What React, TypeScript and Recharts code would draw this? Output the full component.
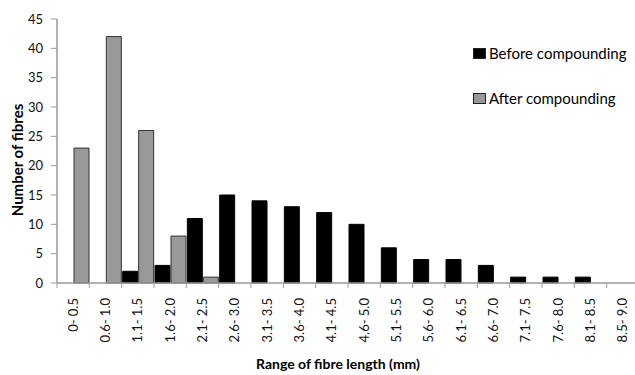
import React from 'react';
import { BarChart, Bar, XAxis, YAxis, Legend } from 'recharts';

const categories = ['0- 0.5', '0.6- 1.0', '1.1- 1.5', '1.6- 2.0', '2.1- 2.5', '2.6- 3.0', '3.1- 3.5', '3.6- 4.0', '4.1- 4.5', '4.6- 5.0', '5.1- 5.5', '5.6- 6.0', '6.1- 6.5', '6.6- 7.0', '7.1- 7.5', '7.6- 8.0', '8.1- 8.5', '8.5- 9.0'];
const beforeCompounding = [0, 0, 2, 3, 11, 15, 14, 13, 12, 10, 6, 4, 4, 3, 1, 1, 1, 0];
const afterCompounding = [23, 42, 26, 8, 1, 0, 0, 0, 0, 0, 0, 0, 0, 0, 0, 0, 0, 0];
const yTicks = [0, 5, 10, 15, 20, 25, 30, 35, 40, 45];
const boundaryTicks = Array.from({ length: categories.length + 1 }, (_, i) => i);
const seriesOrder = ['before', 'after'];

const data = categories.map((c, i) => ({
  range: c,
  before: beforeCompounding[i],
  after: afterCompounding[i],
}));

const FONT = 'Lato, "Open Sans", sans-serif';

const XTick = (props: any) => {
  const { x, y, payload } = props;
  return (
    <text
      x={x}
      y={y}
      transform={`rotate(-90, ${x}, ${y})`}
      textAnchor="end"
      dy="0.35em"
      fontSize={13}
      fontFamily={FONT}
      fill="#111"
    >
      {payload.value}
    </text>
  );
};

const LegendContent = (props: any) => {
  const payload = [...(props.payload || [])].sort(
    (a: any, b: any) => seriesOrder.indexOf(a.dataKey) - seriesOrder.indexOf(b.dataKey)
  );
  return (
    <div style={{ fontFamily: FONT, fontSize: 15, color: '#000' }}>
      {payload.map((p: any, i: number) => (
        <div key={i} style={{ display: 'flex', alignItems: 'center', height: 20, marginBottom: i === 0 ? 25 : 0 }}>
          <span
            style={{
              display: 'inline-block',
              width: 11,
              height: 9,
              background: p.color,
              border: '1px solid #222',
              marginRight: 3,
            }}
          />
          <span>{p.value}</span>
        </div>
      ))}
    </div>
  );
};

export default function App() {
  return (
    <div style={{ position: 'absolute', left: 0, top: 0, width: 635, height: 375, overflow: 'hidden', background: '#fff' }}>
      <BarChart
        width={639}
        height={375}
        data={data}
        margin={{ top: 19, right: 0, bottom: 0, left: 0 }}
        barCategoryGap={1}
        barGap={1}
      >
        <XAxis
          xAxisId="bounds"
          type="number"
          dataKey="idx"
          domain={[0, categories.length]}
          ticks={boundaryTicks}
          allowDataOverflow
          height={5}
          tickSize={5}
          tick={() => <g />}
          axisLine={{ stroke: '#999', strokeWidth: 1.5 }}
          tickLine={{ stroke: '#999' }}
        />
        <XAxis
          xAxisId="cat"
          dataKey="range"
          interval={0}
          height={87}
          axisLine={false}
          tickLine={false}
          tick={<XTick />}
          tickSize={0}
          tickMargin={10}
          label={(p: any) => (
            <text x={338} y={369} textAnchor="middle" fontFamily={FONT} fontWeight="bold" fontSize={14} fill="#000">
              Range of fibre length (mm)
            </text>
          )}
        />
        <YAxis
          width={57}
          domain={[0, 45]}
          ticks={yTicks}
          interval={0}
          tickSize={6}
          tickMargin={8}
          axisLine={{ stroke: '#999', strokeWidth: 1.5 }}
          tickLine={{ stroke: '#999' }}
          tick={{ fontSize: 13, fontFamily: FONT, fill: '#111' }}
          label={(p: any) => (
            <text
              x={17}
              y={160}
              transform="rotate(-90, 17, 160)"
              textAnchor="middle"
              dominantBaseline="central"
              fontFamily={FONT}
              fontWeight="bold"
              fontSize={15}
              fill="#000"
            >
              Number of fibres
            </text>
          )}
        />
        <Legend
          layout="vertical"
          align="center"
          verticalAlign="middle"
          content={<LegendContent />}
          wrapperStyle={{ position: 'absolute', left: 473, top: 43, width: 170 }}
        />
        <Bar xAxisId="cat" dataKey="before" name="Before compounding" fill="#000" stroke="#000" isAnimationActive={false} />
        <Bar xAxisId="cat" dataKey="after" name="After compounding" fill="#999" stroke="#333" isAnimationActive={false} />
      </BarChart>
    </div>
  );
}
